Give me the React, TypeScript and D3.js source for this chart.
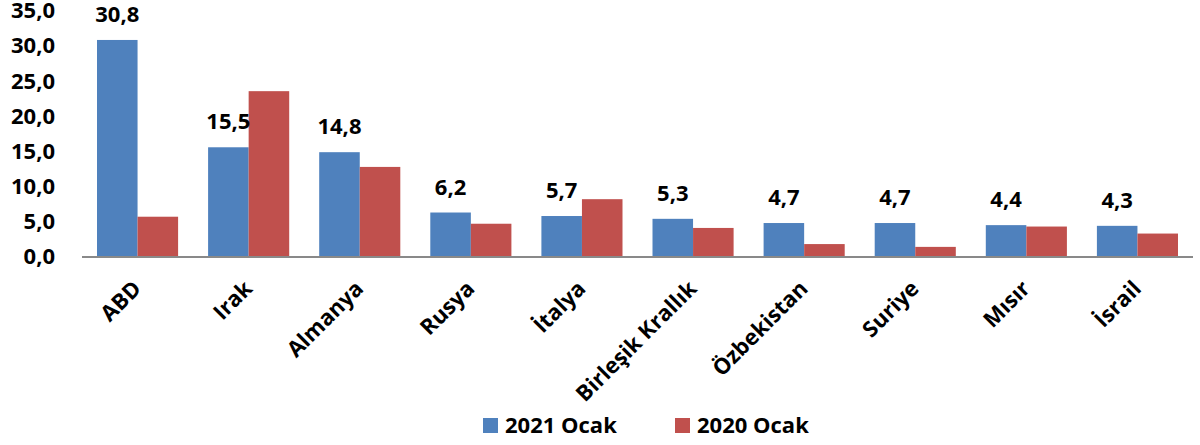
import React from "react";
import * as d3 from "d3";

const categories = ["ABD", "Irak", "Almanya", "Rusya", "İtalya", "Birleşik Krallık", "Özbekistan", "Suriye", "Mısır", "İsrail"];
const series2021 = [30.8, 15.5, 14.8, 6.2, 5.7, 5.3, 4.7, 4.7, 4.4, 4.3];
const series2020 = [5.6, 23.5, 12.7, 4.6, 8.1, 4.0, 1.7, 1.3, 4.2, 3.2];
const yTicks = [0, 5, 10, 15, 20, 25, 30, 35];
const seriesNames = ["2021 Ocak", "2020 Ocak"];
const colors = ["#4F81BD", "#C0504D"];

const W = 1200, H = 445;
const left = 82, right = 1193, top = 10.5, bottom = 256;
const font = "'Open Sans', sans-serif";
const fmt = (v: number) => v.toFixed(1).replace(".", ",");

export default function App() {
  const x = d3.scaleBand<string>().domain(categories).range([left, right]).paddingInner(0.27).paddingOuter(0.135);
  const y = d3.scaleLinear().domain([0, 35]).range([bottom, top]);
  const bw = x.bandwidth() / 2;
  return (
    <svg width={W} height={H} style={{ position: "absolute", left: 0, top: 0, background: "#fff" }} fontFamily={font} fontWeight="bold">
      {yTicks.map((t) => (
        <text key={t} x={55} y={y(t)} dy="0.36em" textAnchor="end" fontSize={22}>{fmt(t)}</text>
      ))}
      {categories.map((c, i) => {
        const cx = x(c)! + bw;
        return (
          <g key={c}>
            <rect x={x(c)!} y={y(series2021[i])} width={bw} height={bottom - y(series2021[i])} fill={colors[0]} />
            <rect x={cx} y={y(series2020[i])} width={bw} height={bottom - y(series2020[i])} fill={colors[1]} />
            <text x={x(c)! + bw / 2} y={y(series2021[i]) - 18} textAnchor="middle" fontSize={22}>{fmt(series2021[i])}</text>
            <text transform={`translate(${cx + 5},${bottom + 34}) rotate(-45)`} textAnchor="end" fontSize={22}>{c}</text>
          </g>
        );
      })}
      <line x1={left} x2={right} y1={bottom + 1} y2={bottom + 1} stroke="#898989" strokeWidth={2} />
      {seriesNames.map((s, i) => (
        <g key={s} transform={`translate(${483 + i * 192},418)`}>
          <rect width={15} height={15} fill={colors[i]} />
          <text x={22} y={7.5} dy="0.36em" fontSize={22}>{s}</text>
        </g>
      ))}
    </svg>
  );
}
